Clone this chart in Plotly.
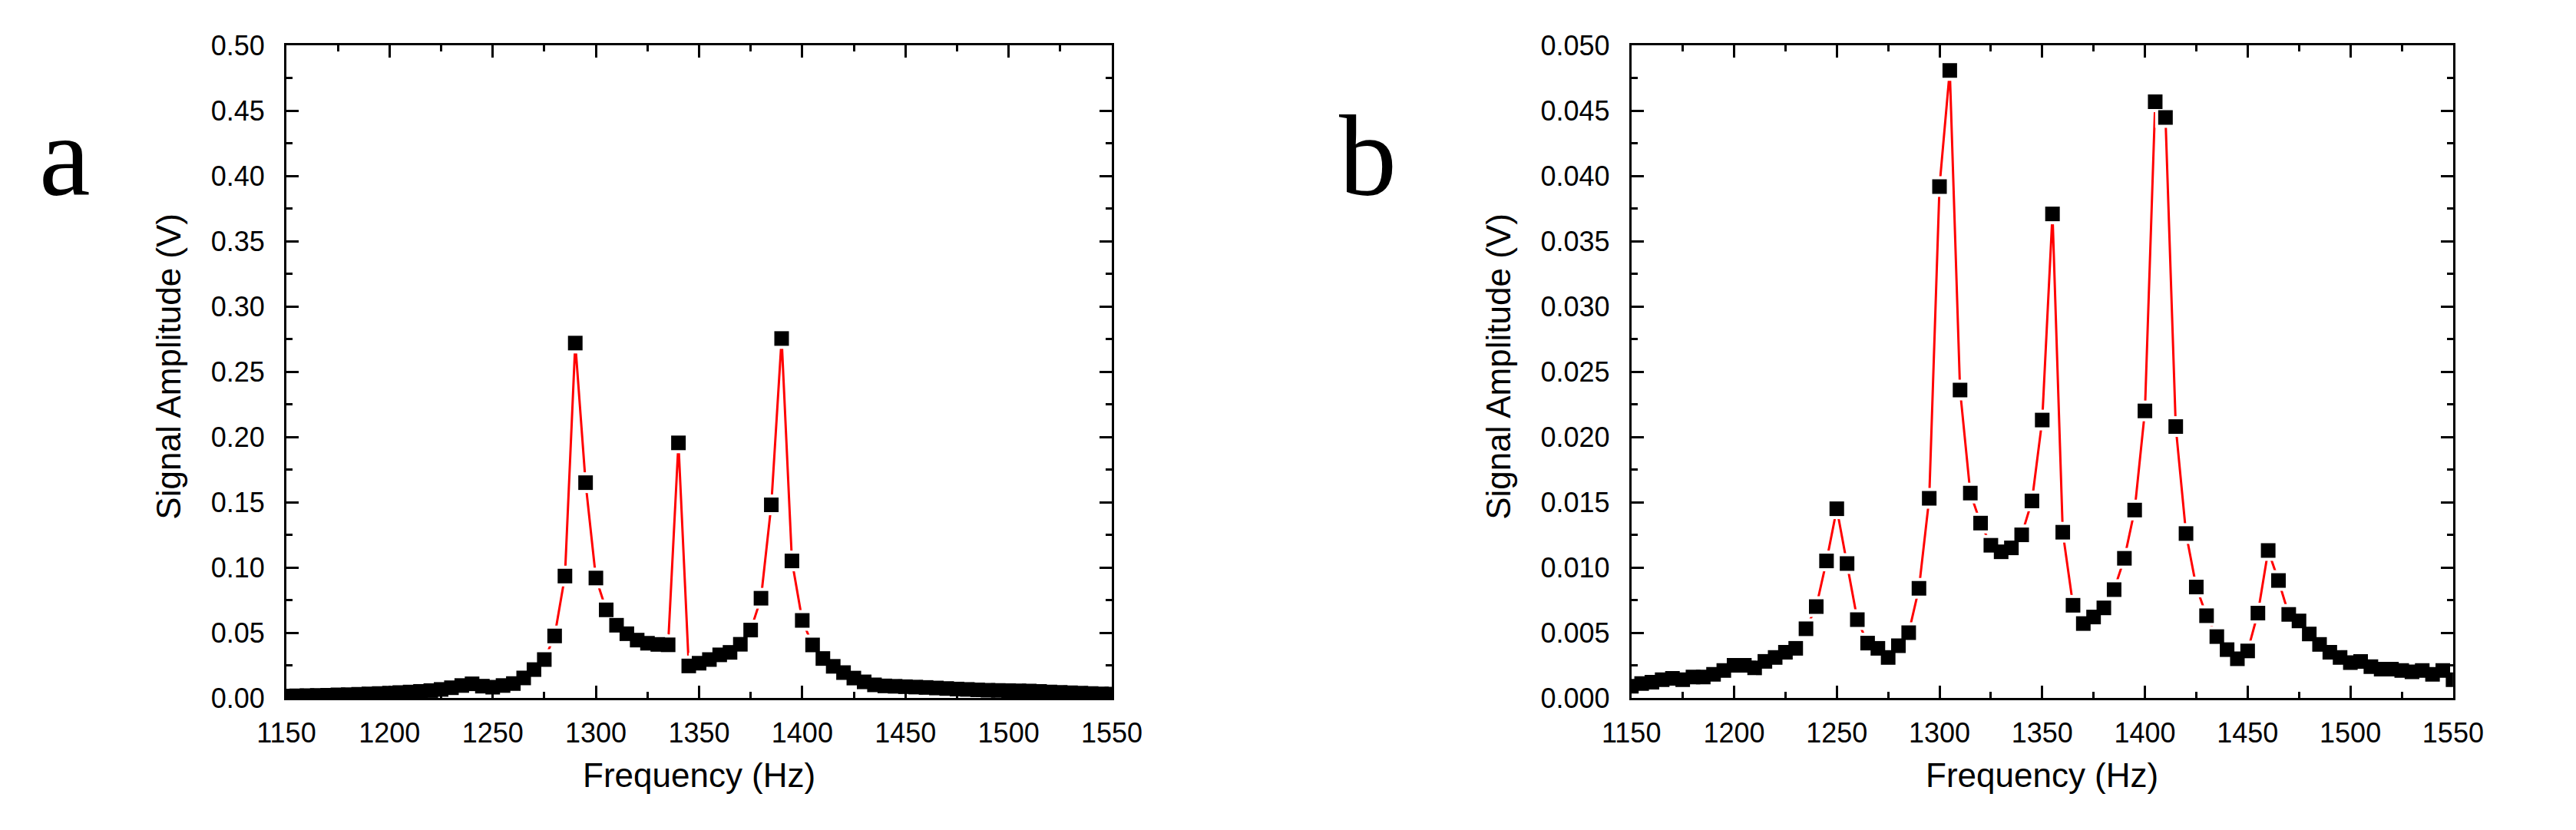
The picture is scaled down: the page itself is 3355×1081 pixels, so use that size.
import plotly.graph_objects as go

W, H = 3355, 1081

freq = list(range(1150, 1551, 5))

amp_a = [
    0.0015, 0.0016, 0.0017, 0.0019, 0.0021, 0.0023, 0.0025, 0.0028, 0.0031, 0.0034,
    0.0037, 0.0041, 0.0045, 0.0050, 0.0056, 0.0065, 0.0078, 0.0095, 0.0108, 0.0090,
    0.0082, 0.0095, 0.0110, 0.0153, 0.0217, 0.0294, 0.0475, 0.0934, 0.2720, 0.1650,
    0.0919, 0.0675, 0.0557, 0.0492, 0.0443, 0.0419, 0.0410, 0.0407, 0.1955, 0.0245,
    0.0266, 0.0294, 0.0330, 0.0349, 0.0411, 0.0520, 0.0764, 0.1480, 0.2755, 0.1050,
    0.0594, 0.0406, 0.0302, 0.0242, 0.0194, 0.0152, 0.0123, 0.0100, 0.0092, 0.0089,
    0.0086, 0.0083, 0.0080, 0.0076, 0.0072, 0.0068, 0.0065, 0.0062, 0.0059, 0.0057,
    0.0055, 0.0054, 0.0052, 0.0049, 0.0046, 0.0043, 0.0040, 0.0037, 0.0034, 0.0031,
    0.0029,
]

amp_b = [
    0.0009, 0.0011, 0.0012, 0.0014, 0.0015, 0.0014, 0.0016, 0.0016, 0.0018, 0.0021,
    0.0025, 0.0025, 0.0023, 0.0028, 0.0031, 0.0035, 0.0038, 0.0053, 0.0070, 0.0105,
    0.0145, 0.0103, 0.0060, 0.0042, 0.0038, 0.0031, 0.0040, 0.0050, 0.0084, 0.0153,
    0.0392, 0.0481, 0.0236, 0.0157, 0.0134, 0.0117, 0.0112, 0.0115, 0.0125, 0.0151,
    0.0213, 0.0371, 0.0127, 0.0071, 0.0057, 0.0062, 0.0069, 0.0083, 0.0107, 0.0144,
    0.0220, 0.0457, 0.0445, 0.0208, 0.0126, 0.0085, 0.0063, 0.0047, 0.0037, 0.0030,
    0.0036, 0.0065, 0.0113, 0.0090, 0.0064, 0.0059, 0.0049, 0.0041, 0.0035, 0.0031,
    0.0027, 0.0028, 0.0024, 0.0022, 0.0022, 0.0021, 0.0020, 0.0021, 0.0018, 0.0021,
    0.0014,
]

x_ticks = [1150, 1200, 1250, 1300, 1350, 1400, 1450, 1500, 1550]
panel_labels = ["a", "b"]
x_title = "Frequency (Hz)"
y_title = "Signal Amplitude (V)"

SANS = "Liberation Sans, Arial, sans-serif"
SERIF = "Liberation Serif, Times New Roman, serif"

fig = go.Figure()

for amp, xa, ya in [(amp_a, "x", "y"), (amp_b, "x2", "y2")]:
    fig.add_trace(go.Scatter(x=freq, y=amp, xaxis=xa, yaxis=ya, mode="lines",
                             line=dict(color="#ff0000", width=3), showlegend=False, hoverinfo="skip"))
    fig.add_trace(go.Scatter(x=freq, y=amp, xaxis=xa, yaxis=ya, mode="markers",
                             marker=dict(symbol="square", size=27, color="white", line=dict(width=0)),
                             showlegend=False, hoverinfo="skip"))
    fig.add_trace(go.Scatter(x=freq, y=amp, xaxis=xa, yaxis=ya, mode="markers",
                             marker=dict(symbol="square", size=19, color="black", line=dict(width=0)),
                             showlegend=False))

def px_x(p):
    return p / W

def px_y(p):
    return 1 - p / H

top, bottom = 41, 924
a_left, a_right = 342, 1443
b_left, b_right = 2136, 3232

common_x = dict(range=[1150, 1550], tickmode="array", tickvals=x_ticks,
                ticks="inside", ticklen=16, tickwidth=3, tickcolor="black",
                showline=True, linewidth=3, linecolor="black", mirror="ticks",
                showgrid=False, zeroline=False,
                minor=dict(dtick=25, tick0=1150, ticks="inside", ticklen=8, tickwidth=3, tickcolor="black", showgrid=False),
                tickfont=dict(family=SANS, size=36, color="black"), ticklabelstandoff=12)
common_y = dict(ticks="inside", ticklen=16, tickwidth=3, tickcolor="black",
                showline=True, linewidth=3, linecolor="black", mirror="ticks",
                showgrid=False, zeroline=False,
                tickfont=dict(family=SANS, size=36, color="black"), ticklabelstandoff=18)

fig.update_layout(
    width=W, height=H, margin=dict(l=0, r=0, t=0, b=0),
    paper_bgcolor="white", plot_bgcolor="white",
    xaxis=dict(domain=[px_x(a_left), px_x(a_right)], anchor="y", **common_x),
    yaxis=dict(domain=[px_y(bottom), px_y(top)], anchor="x", range=[0, 0.5], tick0=0, dtick=0.05,
               tickformat=".2f", minor=dict(dtick=0.025, tick0=0, ticks="inside", ticklen=8, tickwidth=3,
                                             tickcolor="black", showgrid=False), **common_y),
    xaxis2=dict(domain=[px_x(b_left), px_x(b_right)], anchor="y2", **common_x),
    yaxis2=dict(domain=[px_y(bottom), px_y(top)], anchor="x2", range=[0, 0.05], tick0=0, dtick=0.005,
                tickformat=".3f", minor=dict(dtick=0.0025, tick0=0, ticks="inside", ticklen=8, tickwidth=3,
                                              tickcolor="black", showgrid=False), **common_y),
)

ann = []
for left, right, ytx in [(a_left, a_right, 185), (b_left, b_right, 1959)]:
    ann.append(dict(text=x_title, x=px_x((left + right) / 2), y=px_y(1028), xref="paper", yref="paper",
                    xanchor="center", yanchor="middle", showarrow=False,
                    font=dict(family=SANS, size=44, color="black")))
    ann.append(dict(text=y_title, x=px_x(ytx), y=px_y(475), xref="paper", yref="paper",
                    xanchor="center", yanchor="middle", showarrow=False, textangle=-90,
                    font=dict(family=SANS, size=44, color="black")))
for lab, cx in zip(panel_labels, [47, 1785]):
    ann.append(dict(text=lab, x=px_x(cx), y=px_y(190), xref="paper", yref="paper",
                    xanchor="center", yanchor="middle", showarrow=False,
                    font=dict(family=SERIF, size=150, color="black")))
fig.update_layout(annotations=ann)

fig.write_html("out.html")
